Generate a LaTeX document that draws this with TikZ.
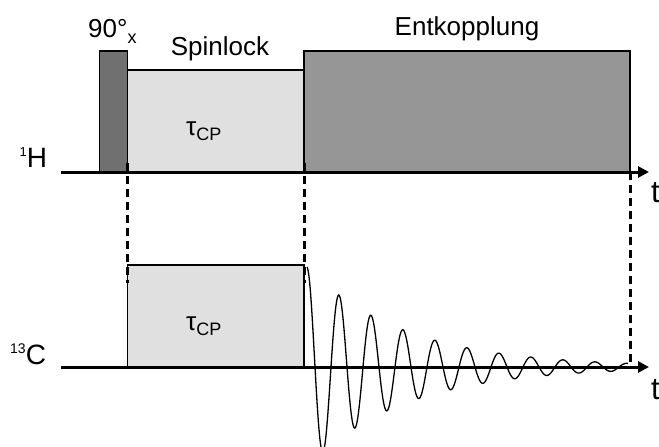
\documentclass[tikz,border=0pt]{standalone}
\usepackage{fontspec}
\setmainfont{Liberation Sans}
\usetikzlibrary{arrows.meta}
\definecolor{hdark}{HTML}{707070}
\definecolor{hmid}{HTML}{969696}
\definecolor{hlight}{HTML}{E0E0E0}
\begin{document}
\begin{tikzpicture}[x=1pt,y=-1pt,
  pulse/.style={draw=black,line width=1.2pt},
  axis/.style={line width=3pt,-{Triangle[length=11pt,width=11pt]}},
  guide/.style={line width=3pt,dash pattern=on 8pt off 5pt},
  lbl/.style={inner sep=0pt,anchor=base west},
  big/.style={font=\fontsize{26}{30}\selectfont},
]
\useasboundingbox (0,0) rectangle (659,447);
\fill[white] (0,0) rectangle (659,447);
% pulses 1H
\filldraw[pulse,fill=hdark] (99.5,51) rectangle (127.5,172);
\filldraw[pulse,fill=hlight] (127.5,70) rectangle (304,172);
\filldraw[pulse,fill=hmid] (304,51) rectangle (630,172);
% pulse 13C
\filldraw[pulse,fill=hlight] (127.5,265) rectangle (304,367);
% FID
\draw[line width=1.3pt,domain=0:321,samples=600]
  plot ({307+\x},{367-100*exp(-\x/97)*cos(11.25*\x)});
% guides
\coordinate (g1a) at (127.5,163); \coordinate (g1b) at (127.5,283);
\coordinate (g2a) at (304,163);   \coordinate (g2b) at (304,283);
\coordinate (g3a) at (630,172);   \coordinate (g3b) at (630,364);
\draw[guide] (g1a) -- (g1b);
\draw[guide] (g2a) -- (g2b);
\draw[guide] (g3a) -- (g3b);
% axes
\coordinate (h0) at (61,172); \coordinate (h1) at (649,172);
\coordinate (c0) at (61,367); \coordinate (c1) at (649,367);
\draw[axis] (h0) -- (h1);
\draw[axis] (c0) -- (c1);
% labels
\node[lbl,font=\fontsize{28}{32}\selectfont] (lH) at (19.5,167) {\raisebox{11pt}{\fontsize{13}{13}\selectfont 1}H};
\node[lbl,font=\fontsize{28}{32}\selectfont] (lC) at (10,364) {\raisebox{11pt}{\fontsize{14}{14}\selectfont 13}C};
\node[lbl,font=\fontsize{26}{30}\selectfont] (l90) at (88,37) {90°\raisebox{-6pt}{\fontsize{18}{18}\selectfont x}};
\node[big,inner sep=0pt,anchor=base] (lspin) at (220,55) {Spinlock};
\node[big,inner sep=0pt,anchor=base] (lent) at (467,35) {Entkopplung};
\node[lbl,big] (tau1) at (186,135) {τ\raisebox{-5pt}{\fontsize{18}{18}\selectfont CP}};
\node[lbl,big] (tau2) at (186,330) {τ\raisebox{-5pt}{\fontsize{18}{18}\selectfont CP}};
\node[lbl,font=\fontsize{31}{35}\selectfont] (t1) at (651,202) {t};
\node[lbl,font=\fontsize{31}{35}\selectfont] (t2) at (651,399) {t};
\end{tikzpicture}
\end{document}
